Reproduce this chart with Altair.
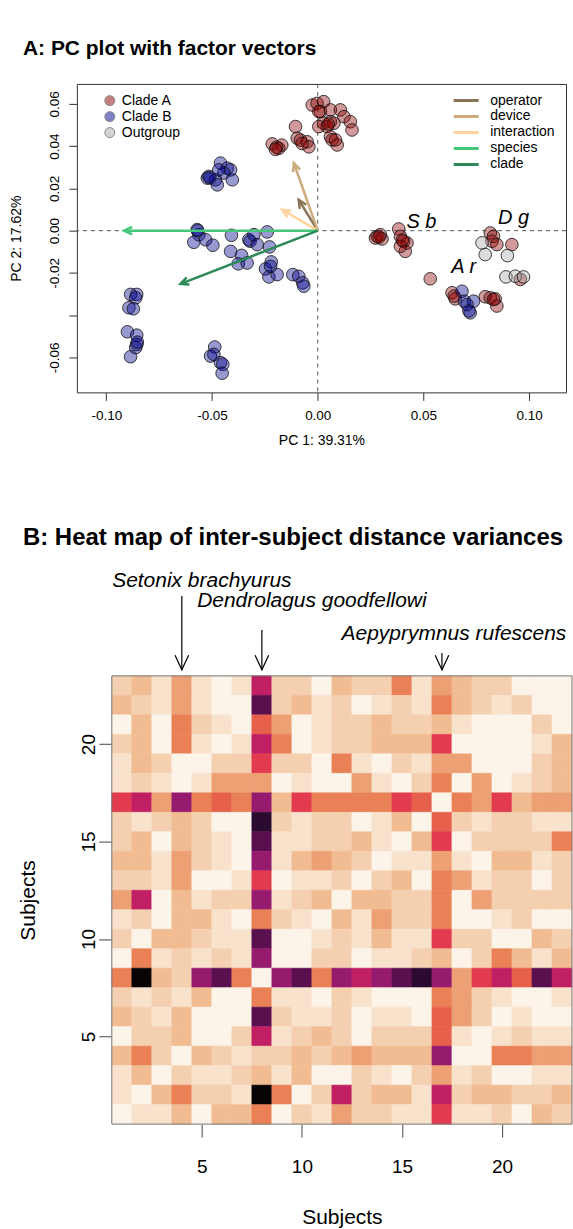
import math
import altair as alt
import pandas as pd

FONT = "Liberation Sans"

# ---------------- Panel A : PC scores ----------------
cladeA_x = [-0.0215, -0.0184, -0.0170, -0.0195, -0.0200,
            -0.0105, -0.0097, -0.0082, -0.0050, -0.0042, -0.0074,
            -0.0026, -0.0003, 0.0028, 0.0013, 0.0005, 0.0060, 0.0107, 0.0124, 0.0154, 0.0162,
            0.0028, 0.0060, 0.0076, 0.0044, 0.0005, 0.0060, 0.0068, 0.0092, 0.0084, 0.0050,
            0.0281, 0.0296, 0.0273, 0.0304, 0.0290,
            0.0383, 0.0391, 0.0406, 0.0422, 0.0414, 0.0391, 0.0400,
            0.0816, 0.0831, 0.0824, 0.0847, 0.0918,
            0.0532, 0.0958,
            0.0635, 0.0650, 0.0645,
            0.0792, 0.0816, 0.0839, 0.0847, 0.0831]
cladeA_y = [0.0411, 0.0390, 0.0405, 0.0395, 0.0385,
            0.0493, 0.0438, 0.0429, 0.0421, 0.0397, 0.0413,
            0.0595, 0.0603, 0.0611, 0.0564, 0.0564, 0.0572, 0.0572, 0.0540, 0.0516, 0.0477,
            0.0509, 0.0516, 0.0509, 0.0493, 0.0493, 0.0445, 0.0430, 0.0406, 0.0430, 0.0505,
            -0.0027, -0.0019, -0.0035, -0.0039, -0.0030,
            0.0008, -0.0027, -0.0050, -0.0058, -0.0098, -0.0074, -0.0045,
            -0.0011, -0.0027, -0.0050, -0.0066, -0.0066,
            -0.0228, -0.0231,
            -0.0294, -0.0323, -0.0310,
            -0.0313, -0.0318, -0.0323, -0.0357, -0.0326]

cladeB_x = [-0.0522, -0.0515, -0.0460, -0.0428, -0.0412, -0.0444, -0.0483, -0.0475, -0.0404, -0.0468, -0.0510,
            -0.0570, -0.0562, -0.0586, -0.0530, -0.0496, -0.0408, -0.0412, -0.0360, -0.0376, -0.0334,
            -0.0326, -0.0320, -0.0302, -0.0286, -0.0239, -0.0228, -0.0247, -0.0231, -0.0220, -0.0223,
            -0.0192, -0.0118, -0.0090, -0.0071, -0.0066, -0.0568,
            -0.0885, -0.0856, -0.0861, -0.0893, -0.0872, -0.0900, -0.0856, -0.0856, -0.0861, -0.0885, -0.0853,
            -0.0487, -0.0507, -0.0491, -0.0460, -0.0449, -0.0452,
            0.0682, 0.0693, 0.0737, 0.0721, 0.0706, 0.0715]
cladeB_y = [0.0249, 0.0257, 0.0320, 0.0296, 0.0288, 0.0273, 0.0241, 0.0217, 0.0241, 0.0288, 0.0250,
            0.0005, -0.0019, -0.0055, -0.0043, -0.0069, -0.0022, -0.0098, -0.0117, -0.0157, -0.0153,
            -0.0043, -0.0050, -0.0019, -0.0066, -0.0006, -0.0077, -0.0181, -0.0219, -0.0148, -0.0169,
            -0.0208, -0.0208, -0.0216, -0.0247, -0.0263, 0.0000,
            -0.0302, -0.0302, -0.0318, -0.0365, -0.0370, -0.0479, -0.0495, -0.0539, -0.0554, -0.0597, -0.0528,
            -0.0551, -0.0594, -0.0586, -0.0625, -0.0633, -0.0675,
            -0.0287, -0.0334, -0.0334, -0.0389, -0.0350, -0.0380]

out_x = [0.0777, 0.0792, 0.0897, 0.0890, 0.0934, 0.0973]
out_y = [-0.0058, -0.0113, -0.0118, -0.0219, -0.0216, -0.0219]

group_names = ["Clade A", "Clade B", "Outgroup"]
group_colors = ["#8B0000", "#00008B", "#A8A8A8"]

vec_names = ["operator", "device", "interaction", "species", "clade"]
vec_x = [-0.0090, -0.0113, -0.0168, -0.0916, -0.0649]
vec_y = [0.0146, 0.0320, 0.0099, 0.0000, -0.0252]
vec_colors = ["#8B7355", "#CDAA7D", "#FFD39B", "#43C87A", "#2E8B57"]

lab_text = ["S b", "D g", "A r"]
lab_x = [0.0490, 0.0926, 0.0690]
lab_y = [0.0043, 0.0060, -0.0170]

x_ticks = [-0.10, -0.05, 0.00, 0.05, 0.10]
y_ticks = [-0.06, -0.04, -0.02, 0.00, 0.02, 0.04, 0.06]

# ---------------- Panel B : heat map (rows from subject 23 down to 1) ----------------
heat_rows = [
    [2, 3, 1, 4, 1, 0, 1, 8, 2, 2, 0, 3, 2, 2, 5, 1, 4, 3, 2, 2, 0, 0, 0],
    [3, 2, 1, 4, 1, 0, 0, 10, 2, 3, 1, 2, 0, 1, 2, 1, 5, 3, 2, 1, 2, 0, 0],
    [0, 3, 0, 5, 2, 1, 0, 6, 4, 0, 1, 2, 2, 3, 2, 2, 3, 1, 0, 0, 0, 2, 0],
    [2, 3, 0, 5, 1, 0, 1, 8, 5, 0, 1, 2, 2, 3, 3, 3, 7, 0, 0, 0, 0, 1, 3],
    [1, 3, 2, 0, 0, 2, 2, 7, 2, 2, 0, 5, 1, 0, 2, 1, 4, 4, 0, 0, 0, 2, 3],
    [1, 2, 1, 0, 1, 4, 4, 4, 0, 1, 0, 0, 4, 1, 0, 2, 5, 0, 4, 0, 1, 2, 3],
    [7, 8, 4, 9, 5, 6, 5, 9, 3, 7, 5, 5, 5, 5, 7, 6, 0, 5, 4, 7, 3, 4, 4],
    [2, 1, 2, 3, 2, 0, 0, 11, 2, 1, 2, 2, 0, 1, 3, 0, 6, 2, 1, 2, 2, 1, 1],
    [2, 3, 0, 3, 2, 1, 0, 10, 1, 1, 2, 2, 3, 1, 0, 3, 7, 0, 2, 2, 2, 2, 5],
    [3, 3, 1, 4, 2, 1, 0, 9, 1, 3, 4, 3, 2, 0, 1, 1, 4, 1, 0, 3, 3, 1, 2],
    [2, 2, 1, 4, 0, 0, 1, 7, 0, 1, 1, 2, 0, 2, 3, 0, 5, 4, 1, 2, 2, 0, 2],
    [4, 8, 0, 3, 1, 2, 2, 9, 1, 2, 3, 0, 3, 3, 2, 2, 5, 0, 4, 2, 2, 2, 2],
    [1, 2, 0, 3, 3, 1, 0, 5, 2, 1, 0, 3, 1, 4, 2, 2, 5, 0, 0, 1, 2, 0, 0],
    [2, 0, 3, 3, 2, 1, 1, 10, 0, 0, 1, 2, 1, 3, 1, 1, 7, 2, 2, 0, 0, 3, 2],
    [0, 5, 1, 2, 1, 2, 1, 9, 0, 0, 2, 2, 0, 1, 1, 2, 3, 0, 2, 5, 3, 1, 3],
    [5, 12, 3, 2, 9, 10, 5, 0, 9, 10, 5, 9, 8, 9, 10, 11, 9, 4, 7, 8, 6, 10, 8],
    [2, 1, 2, 1, 3, 0, 0, 5, 1, 1, 0, 2, 1, 0, 0, 0, 5, 4, 2, 1, 0, 0, 1],
    [3, 2, 1, 3, 0, 0, 0, 10, 2, 1, 1, 2, 0, 1, 1, 0, 6, 4, 2, 0, 1, 0, 0],
    [0, 2, 2, 3, 0, 0, 2, 8, 1, 2, 3, 2, 0, 2, 2, 2, 6, 1, 0, 1, 2, 1, 1],
    [3, 5, 2, 0, 3, 2, 1, 2, 2, 3, 2, 3, 4, 3, 3, 3, 9, 0, 0, 5, 5, 4, 4],
    [1, 3, 0, 2, 1, 1, 2, 3, 1, 3, 0, 0, 2, 1, 0, 2, 4, 1, 2, 0, 0, 1, 1],
    [1, 0, 3, 5, 2, 2, 1, 12, 5, 0, 2, 8, 2, 3, 3, 1, 8, 2, 3, 3, 2, 2, 3],
    [0, 1, 1, 3, 0, 3, 3, 5, 0, 2, 1, 4, 2, 2, 1, 1, 7, 1, 1, 2, 0, 3, 2],
]
heat_levels = list(range(13))
heat_colors = ["#FCF3E9", "#F8E2CC", "#F5D0B0", "#F1BC92", "#EDA073", "#EA8156",
               "#E7604C", "#E23A4E", "#C11F63", "#961A6E", "#5A0F4F", "#2A0A2E", "#080405"]
heat_ticks = [5, 10, 15, 20]

species_names = ["Setonix brachyurus", "Dendrolagus goodfellowi", "Aepyprymnus rufescens"]
species_subject = [4, 8, 17]
species_label_x = [5.0, 10.5, 17.6]
species_label_y = [28.37, 27.34, 25.65]
species_arrow_top = [27.6, 25.86, 24.68]
species_arrow_tip = [23.81, 23.81, 23.81]

# ================= build panel A =================
pts = pd.concat([
    pd.DataFrame({"x": cladeA_x, "y": cladeA_y, "group": group_names[0]}),
    pd.DataFrame({"x": cladeB_x, "y": cladeB_y, "group": group_names[1]}),
    pd.DataFrame({"x": out_x, "y": out_y, "group": group_names[2]}),
], ignore_index=True)

vec = pd.DataFrame({"factor": vec_names, "x": vec_x, "y": vec_y})
vec["x0"] = 0.0
vec["y0"] = 0.0
vec["ang"] = [(math.degrees(math.atan2(a, b)) + 360) % 360 for a, b in zip(vec_x, vec_y)]

labs = pd.DataFrame({"t": lab_text, "x": lab_x, "y": lab_y})
zero = pd.DataFrame({"v": [0.0]})

W_A, H_A = 490, 309
xsA = alt.Scale(domain=[-0.1139, 0.1174], nice=False, zero=False)
ysA = alt.Scale(domain=[-0.0766, 0.0695], nice=False, zero=False)

fmt = "(datum.value < 0 ? '-' : '') + format(abs(datum.value), '.2f')"
axA_x = alt.Axis(values=x_ticks, labelExpr=fmt, tickSize=8, tickColor="#333",
                 labelPadding=15, labelBaseline="middle", labelFontSize=13.5,
                 domain=False, grid=False, title="PC 1: 39.31%", titleFontSize=14,
                 titleFontWeight="normal", titleX=W_A / 2, titleY=48, titleBaseline="middle")
axA_y = alt.Axis(values=y_ticks,
                 labelExpr="abs(datum.value + 0.04) < 1e-9 ? '' : " + fmt,
                 tickSize=8, tickColor="#333", labelAngle=270, labelAlign="center",
                 labelBaseline="middle", labelPadding=14, labelFontSize=13.5,
                 domain=False, grid=False, title="PC 2: 17.62%", titleFontSize=14,
                 titleFontWeight="normal", titleX=-60, titleY=H_A / 2,
                 titleAngle=270, titleBaseline="middle", titleAlign="center")

vline = alt.Chart(zero).mark_rule(strokeDash=[4, 4], color="#555", strokeWidth=1).encode(
    x=alt.X("v:Q", scale=xsA, axis=axA_x))
hline = alt.Chart(zero).mark_rule(strokeDash=[4, 4], color="#555", strokeWidth=1).encode(
    y=alt.Y("v:Q", scale=ysA, axis=axA_y))

points = alt.Chart(pts).mark_circle(size=160, fillOpacity=0.4, stroke="#111",
                                    strokeWidth=1, strokeOpacity=0.8).encode(
    x=alt.X("x:Q", scale=xsA),
    y=alt.Y("y:Q", scale=ysA),
    fill=alt.Fill("group:N", scale=alt.Scale(domain=group_names, range=group_colors),
                  legend=alt.Legend(title=None, orient="none", legendX=26, legendY=9,
                                    symbolType="circle", symbolSize=100,
                                    symbolStrokeColor="#111", symbolStrokeWidth=1,
                                    symbolOpacity=0.5, labelFontSize=14, labelFont=FONT,
                                    labelOffset=5, rowPadding=0, clipHeight=15.5,
                                    padding=0)),
)

stroke_scale = alt.Scale(domain=vec_names, range=vec_colors)
arrows = alt.Chart(vec).mark_rule(strokeWidth=2.5).encode(
    x=alt.X("x0:Q", scale=xsA), y=alt.Y("y0:Q", scale=ysA),
    x2="x:Q", y2="y:Q",
    stroke=alt.Stroke("factor:N", scale=stroke_scale,
                      legend=alt.Legend(title=None, orient="none", legendX=376, legendY=9,
                                        symbolType="stroke", symbolSize=625,
                                        symbolStrokeWidth=3, labelFontSize=14,
                                        labelFont=FONT, labelOffset=10, rowPadding=0,
                                        clipHeight=15.25, padding=0)),
)
heads = alt.Chart(vec).mark_point(shape="M-0.42,0.91L0,0L0.42,0.91", filled=False,
                                  size=324, strokeWidth=2.5, opacity=1).encode(
    x=alt.X("x:Q", scale=xsA), y=alt.Y("y:Q", scale=ysA),
    angle=alt.Angle("ang:Q", scale=None),
    stroke=alt.Stroke("factor:N", scale=stroke_scale, legend=None),
)
labels = alt.Chart(labs).mark_text(fontSize=20, fontStyle="italic", font=FONT,
                                   align="center", baseline="middle", color="black").encode(
    x=alt.X("x:Q", scale=xsA), y=alt.Y("y:Q", scale=ysA), text="t:N")

chartA = alt.layer(vline, hline, points, arrows, heads, labels).properties(
    width=W_A, height=H_A,
    view=alt.ViewBackground(stroke="#333", strokeWidth=1),
    title=alt.Title("A: PC plot with factor vectors", anchor="start", frame="group",
                    dx=-54, fontSize=21, fontWeight="bold", font=FONT, offset=24),
)

# ================= build panel B =================
N = len(heat_rows)
recs = []
for i, row in enumerate(heat_rows):
    sy = N - i
    for j, v in enumerate(row):
        recs.append({"sx": j + 1, "sy": sy, "v": v})
hm = pd.DataFrame(recs)

W_B, H_B = 496, 449
xsB = alt.Scale(domain=[0.5, N + 0.5], range=[35, W_B], nice=False, zero=False)
ysB = alt.Scale(domain=[0.5, N + 0.5], nice=False, zero=False)
cscale = alt.Scale(domain=heat_levels, range=heat_colors)

axB_x = alt.Axis(values=heat_ticks, format="d", tickSize=13, tickColor="#444",
                 labelPadding=29, labelBaseline="middle", labelFontSize=19,
                 domain=False, grid=False, title="Subjects", titleFontSize=21,
                 titleFontWeight="normal", titleX=(35 + W_B) / 2, titleY=94,
                 titleBaseline="middle")
axB_y = alt.Axis(values=heat_ticks, format="d", tickSize=13, tickColor="#444",
                 offset=-35, labelAngle=270, labelAlign="center", labelBaseline="middle",
                 labelPadding=10, labelFontSize=19, domain=False, grid=False,
                 title="Subjects", titleFontSize=21, titleFontWeight="normal",
                 titleX=-83, titleY=H_B / 2, titleAngle=270, titleBaseline="middle",
                 titleAlign="center")

cells = alt.Chart(hm).transform_calculate(
    x0="datum.sx - 0.5", x1="datum.sx + 0.5", y0="datum.sy - 0.5", y1="datum.sy + 0.5"
).mark_rect(strokeWidth=0.6).encode(
    x=alt.X("x0:Q", scale=xsB, axis=axB_x), x2="x1:Q",
    y=alt.Y("y0:Q", scale=ysB, axis=axB_y), y2="y1:Q",
    color=alt.Color("v:O", scale=cscale, legend=None),
    stroke=alt.Stroke("v:O", scale=cscale, legend=None),
)
box_df = pd.DataFrame({"a": [0.5], "b": [N + 0.5]})
box = alt.Chart(box_df).mark_rect(fillOpacity=0, stroke="#777", strokeWidth=1).encode(
    x=alt.X("a:Q", scale=xsB), x2="b:Q", y=alt.Y("a:Q", scale=ysB), y2="b:Q")

ann = pd.DataFrame({"name": species_names, "subj": species_subject,
                    "lx": species_label_x, "ly": species_label_y,
                    "top": species_arrow_top, "tip": species_arrow_tip})
ann_text = alt.Chart(ann).mark_text(fontSize=21, fontStyle="italic", font=FONT,
                                    align="center", baseline="middle", color="black").encode(
    x=alt.X("lx:Q", scale=xsB), y=alt.Y("ly:Q", scale=ysB), text="name:N")
ann_rule = alt.Chart(ann).mark_rule(color="black", strokeWidth=1.2).encode(
    x=alt.X("subj:Q", scale=xsB), y=alt.Y("top:Q", scale=ysB), y2="tip:Q")
ann_head = alt.Chart(ann).mark_point(shape="M-0.42,-0.91L0,0L0.42,-0.91", filled=False,
                                     size=1050, strokeWidth=1.2, color="black",
                                     opacity=1).encode(
    x=alt.X("subj:Q", scale=xsB), y=alt.Y("tip:Q", scale=ysB))

chartB = alt.layer(cells, box, ann_rule, ann_head, ann_text).properties(
    width=W_B, height=H_B,
    title=alt.Title("B: Heat map of inter-subject distance variances", anchor="start",
                    frame="group", dx=-54, fontSize=24, fontWeight="bold", font=FONT,
                    offset=20),
)

chart = alt.vconcat(chartA, chartB, spacing=77).resolve_scale(
    stroke="independent", color="independent", fill="independent"
).properties(
    padding={"left": 9, "top": 37, "right": 0, "bottom": 0}
).configure(font=FONT).configure_view(stroke="transparent").configure_axis(
    labelFont=FONT, titleFont=FONT, labelColor="black", titleColor="black")

chart.save("out.html", embed_options={"renderer": "svg", "actions": False})
